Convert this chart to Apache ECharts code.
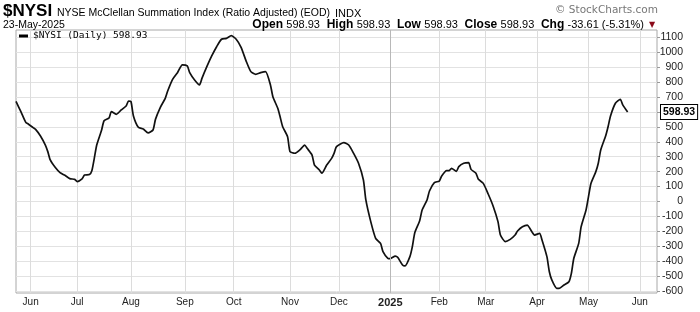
<!DOCTYPE html>
<html>
<head>
<meta charset="utf-8">
<script src="https://cdn.jsdelivr.net/npm/echarts@6/dist/echarts.min.js"></script>
<style>
html,body{margin:0;padding:0;background:#fff;}
#chart{width:700px;height:312px;}
</style>
</head>
<body>
<div id="chart"></div>
<script>
// ---- axis range (trading days) ----
const firstDay = '2024-05-23';
const lastDay = '2025-06-11';
const marketHolidays = ['2024-05-27','2024-06-19','2024-07-04','2024-09-02','2024-11-28','2024-12-25',
  '2025-01-01','2025-01-09','2025-01-20','2025-02-17','2025-04-18','2025-05-26'];
const monthNames = ['Jan','Feb','Mar','Apr','May','Jun','Jul','Aug','Sep','Oct','Nov','Dec'];
const yTicks = {min: -600, max: 1100, step: 100};

// ---- series values ----
const sampleDates = [
'2024-05-23','2024-05-28','2024-05-30','2024-05-31','2024-06-04','2024-06-05','2024-06-07','2024-06-11','2024-06-12','2024-06-13',
'2024-06-17','2024-06-20','2024-06-24','2024-06-26','2024-06-28','2024-07-01','2024-07-03','2024-07-05','2024-07-09','2024-07-10',
'2024-07-11','2024-07-12','2024-07-16','2024-07-17','2024-07-19','2024-07-22','2024-07-24','2024-07-26','2024-07-30','2024-07-31',
'2024-08-01','2024-08-02','2024-08-06','2024-08-08','2024-08-12','2024-08-14','2024-08-15','2024-08-19','2024-08-21','2024-08-22',
'2024-08-26','2024-08-28','2024-08-30','2024-09-04','2024-09-05','2024-09-09','2024-09-11','2024-09-12','2024-09-16','2024-09-18',
'2024-09-20','2024-09-24','2024-09-26','2024-09-30','2024-10-02','2024-10-04','2024-10-08','2024-10-10','2024-10-14','2024-10-16',
'2024-10-18','2024-10-22','2024-10-23','2024-10-25','2024-10-28','2024-10-29','2024-10-31','2024-11-01','2024-11-05','2024-11-07',
'2024-11-11','2024-11-12','2024-11-14','2024-11-15','2024-11-19','2024-11-20','2024-11-22','2024-11-26','2024-11-27','2024-11-29',
'2024-12-04','2024-12-06','2024-12-10','2024-12-12','2024-12-16','2024-12-17','2024-12-19','2024-12-23','2024-12-26','2024-12-27',
'2024-12-31','2025-01-02','2025-01-06','2025-01-07','2025-01-10','2025-01-13','2025-01-15','2025-01-16','2025-01-17','2025-01-22',
'2025-01-23','2025-01-27','2025-01-28','2025-01-30','2025-02-03','2025-02-04','2025-02-06','2025-02-07','2025-02-10','2025-02-12',
'2025-02-13','2025-02-18','2025-02-20','2025-02-21','2025-02-25','2025-02-26','2025-02-28','2025-03-04','2025-03-06','2025-03-10',
'2025-03-11','2025-03-13','2025-03-17','2025-03-19','2025-03-20','2025-03-24','2025-03-26','2025-03-27','2025-03-31','2025-04-02',
'2025-04-03','2025-04-07','2025-04-08','2025-04-09','2025-04-11','2025-04-14','2025-04-16','2025-04-21','2025-04-22','2025-04-23',
'2025-04-25','2025-04-28','2025-04-30','2025-05-01','2025-05-02','2025-05-06','2025-05-07','2025-05-08','2025-05-12','2025-05-13',
'2025-05-14','2025-05-16','2025-05-20','2025-05-21','2025-05-23'
];
const sampleValues = [
670,602,530,519,495,483,439,378,334,278,
229,193,175,153,148,133,151,177,180,206,
289,378,479,541,559,602,584,613,640,673,
669,573,497,486,459,479,550,631,691,740,
818,863,915,908,863,814,781,825,903,975,
1037,1087,1093,1111,1087,1033,944,870,852,863,
870,781,702,624,564,501,434,334,323,345,
378,356,311,244,211,189,244,289,322,367,
394,378,322,256,144,10,-135,-247,-281,-336,
-381,-383,-366,-374,-426,-432,-370,-303,-209,-129,
-57,10,70,126,137,171,206,206,222,202,
233,256,260,215,189,148,121,50,-30,-135,
-225,-269,-254,-225,-198,-169,-158,-180,-225,-214,
-258,-370,-471,-526,-582,-582,-560,-538,-482,-381,
-281,-169,-57,32,121,200,256,345,439,501,
573,658,684,647,598.93
];
const lastClose = 598.93;
const seriesName = '$NYSI (Daily) 598.93';
const headerTitle = 'NYSE McClellan Summation Index (Ratio Adjusted) (EOD)';
const headerDate = '23-May-2025';

// ---- build trading-day categories ----
function pad(n){return (n<10?'0':'')+n;}
function fmt(d){return d.getUTCFullYear()+'-'+pad(d.getUTCMonth()+1)+'-'+pad(d.getUTCDate());}
const dates = [];
(function(){
  let d = new Date(firstDay+'T00:00:00Z');
  const end = new Date(lastDay+'T00:00:00Z');
  while (d <= end) {
    const wd = d.getUTCDay();
    const s = fmt(d);
    if (wd !== 0 && wd !== 6 && marketHolidays.indexOf(s) < 0) dates.push(s);
    d = new Date(d.getTime() + 86400000);
  }
})();
const monthStart = {};
for (let i = 1; i < dates.length; i++) {
  if (dates[i].slice(5,7) !== dates[i-1].slice(5,7)) monthStart[i] = true;
}
const isMonthStart = (idx) => !!monthStart[idx];

const seriesData = sampleDates.map((d, i) => [dates.indexOf(d), sampleValues[i]]);

const chart = echarts.init(document.getElementById('chart'), null, {renderer: 'canvas'});
const L = 16, R = 43;
chart.setOption({
  animation: false,
  backgroundColor: '#ffffff',
  textStyle: {fontFamily: '"Liberation Sans", Arial, sans-serif'},
  grid: [
    {left: L, right: R, top: 37.3, bottom: 21, show: false},
    {left: L, right: R, top: 30, bottom: 19, show: true, borderColor: '#a8a8a8', borderWidth: 1}
  ],
  legend: {
    data: [seriesName], left: 19, top: 30, padding: [1, 0, 0, 0],
    icon: 'rect', itemWidth: 9, itemHeight: 3, selectedMode: false,
    textStyle: {fontFamily: '"DejaVu Sans Mono", monospace', fontSize: 9.5, color: '#000'}
  },
  xAxis: [
    {gridIndex: 0, type: 'category', data: dates, boundaryGap: false, show: false},
    {gridIndex: 1, type: 'category', data: dates, boundaryGap: false,
     axisLine: {show: false}, axisTick: {show: false},
     splitLine: {show: true, interval: (i) => isMonthStart(i), lineStyle: {color: '#dcdcdc', width: 1}},
     axisLabel: {
       interval: (i) => isMonthStart(i),
       margin: 4, fontSize: 10, color: '#222',
       formatter: (v) => {
         const m = parseInt(v.slice(5,7), 10) - 1;
         return m === 0 ? '{y|' + v.slice(0,4) + '}' : monthNames[m];
       },
       rich: {y: {fontWeight: 'bold', fontSize: 11, color: '#222'}}
     }}
  ],
  yAxis: [
    {gridIndex: 0, type: 'value', position: 'right', min: yTicks.min, max: yTicks.max, interval: yTicks.step,
     axisLine: {show: false},
     axisTick: {show: true, length: 3, lineStyle: {color: '#999'}},
     splitLine: {show: true, lineStyle: {color: '#e2e2e2', width: 1}},
     axisLabel: {align: 'right', margin: 26, fontSize: 10.5, color: '#222',
       formatter: (v) => (v === 600 ? '' : String(v))}},
    {gridIndex: 1, type: 'value', show: false, min: 0, max: 1}
  ],
  series: [
    {
      name: seriesName, type: 'line', xAxisIndex: 0, yAxisIndex: 0,
      data: seriesData, showSymbol: false, symbol: 'none', smooth: 0.2, clip: false,
      lineStyle: {color: '#111', width: 1.7}, itemStyle: {color: '#000'},
      markLine: {
        silent: true, symbol: 'none', animation: false,
        data: [{yAxis: lastClose}],
        lineStyle: {width: 0, color: 'rgba(0,0,0,0)'},
        label: {show: true, position: 'end', distance: 4, formatter: String(lastClose),
          backgroundColor: '#fff', borderColor: '#000', borderWidth: 1, padding: [2, 2, 1, 2],
          fontWeight: 'bold', fontSize: 10.5, color: '#000', opacity: 1}
      }
    },
    {
      name: 'yearline', type: 'line', xAxisIndex: 1, yAxisIndex: 1, data: [],
      markLine: {
        silent: true, symbol: 'none', animation: false,
        data: [{xAxis: '2025-01-02'}],
        lineStyle: {color: '#b8b8b8', type: 'solid', width: 1},
        label: {show: false}
      }
    }
  ],
  graphic: [
    {type: 'text', x: 3, y: 20, style: {text: '$NYSI', font: 'bold 17px "Liberation Sans", Arial', fill: '#000', verticalAlign: 'bottom'}},
    {type: 'text', x: 57, y: 19, style: {text: headerTitle, font: '10.5px "Liberation Sans", Arial', fill: '#000', verticalAlign: 'bottom'}},
    {type: 'text', x: 335, y: 19, style: {text: 'INDX', font: '11px "Liberation Sans", Arial', fill: '#000', verticalAlign: 'bottom'}},
    {type: 'text', x: 658, y: 16, style: {text: '\u00A9 StockCharts.com', font: '10.5px "DejaVu Sans", sans-serif', fill: '#777', align: 'right', verticalAlign: 'bottom'}},
    {type: 'text', x: 3, y: 31, style: {text: headerDate, font: '10.5px "Liberation Sans", Arial', fill: '#000', verticalAlign: 'bottom'}},
    {type: 'text', x: 644, y: 31, style: {
      text: '{b|Open} {n|598.93}  {b|High} {n|598.93}  {b|Low} {n|598.93}  {b|Close} {n|598.93}  {b|Chg} {n|-33.61 (-5.31%)}',
      align: 'right', verticalAlign: 'bottom',
      rich: {
        b: {fontFamily: '"Liberation Sans", Arial', fontWeight: 'bold', fontSize: 12, fill: '#000'},
        n: {fontFamily: '"Liberation Sans", Arial', fontSize: 11, fill: '#000'}
      }}},
    {type: 'text', x: 652, y: 25, style: {text: '\u25BC', font: '8px "DejaVu Sans", sans-serif', fill: '#8b0a1a', align: 'center', verticalAlign: 'middle'}}
  ]
});
</script>
</body>
</html>
